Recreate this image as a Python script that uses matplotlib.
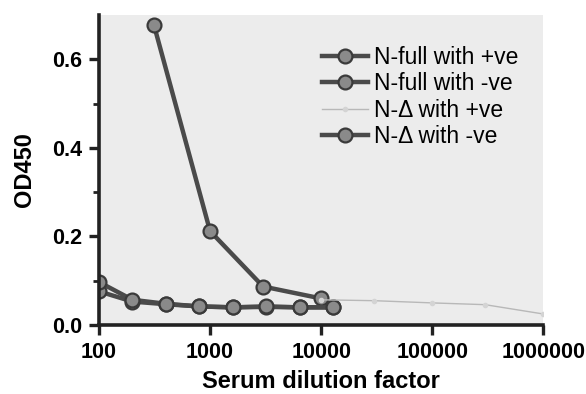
import numpy as np
import matplotlib
matplotlib.use('Agg')
import matplotlib.pyplot as plt
from matplotlib.ticker import FixedLocator, NullLocator

plt.rcParams['font.family'] = ['Liberation Sans', 'DejaVu Sans']

# data
dil_full_pos = [312.5, 1000, 3000, 10000]
od_full_pos = [0.677, 0.212, 0.087, 0.060]

dil_neg = [100, 200, 400, 800, 1600, 3200, 6400, 12800]
od_full_neg = [0.097, 0.057, 0.048, 0.042, 0.040, 0.042, 0.040, 0.040]
od_delta_neg = [0.076, 0.053, 0.047, 0.042, 0.040, 0.041, 0.040, 0.040]

dil_delta_pos = [10000, 30000, 100000, 300000, 1000000]
od_delta_pos = [0.057, 0.055, 0.050, 0.046, 0.025]

labels = ['N-full with +ve', 'N-full with -ve', 'N-\u0394 with +ve', 'N-\u0394 with -ve']

fig = plt.figure(figsize=(5.86, 3.94), dpi=100)
ax = fig.add_axes([0.169, 0.175, 0.758, 0.787])
ax.set_facecolor('#ececec')

line_kw = dict(color='#4a4a4a', lw=3.2, marker='o', ms=10,
               mfc='#8a8a8a', mec='#3a3a3a', mew=1.6)

ax.plot(dil_full_pos, od_full_pos, label=labels[0], **line_kw)
ax.plot(dil_neg, od_full_neg, label=labels[1], **line_kw)
ax.plot(dil_delta_pos, od_delta_pos, label=labels[2], color='#b8b8b8', lw=1.0,
        marker='o', ms=3, mfc='#d4d4d4', mec='#d4d4d4')
ax.plot(dil_neg, od_delta_neg, label=labels[3], zorder=1, **line_kw)

ax.set_xscale('log')
ax.set_xlim(100, 1000000)
ax.set_ylim(0, 0.7)
ax.xaxis.set_major_locator(FixedLocator([100, 1000, 10000, 100000, 1000000]))
ax.xaxis.set_minor_locator(NullLocator())
ax.yaxis.set_major_locator(FixedLocator([0.0, 0.2, 0.4, 0.6]))
ax.yaxis.set_minor_locator(FixedLocator([0.1, 0.3, 0.5]))
ax.set_xticklabels(['100', '1000', '10000', '100000', '1000000'],
                   fontsize=15.5, fontweight='bold')
ax.set_yticklabels(['0.0', '0.2', '0.4', '0.6'], fontsize=15.5, fontweight='bold')

for s in ['top', 'right']:
    ax.spines[s].set_visible(False)
for s in ['left', 'bottom']:
    ax.spines[s].set_linewidth(2.6)
    ax.spines[s].set_color('#222222')
ax.tick_params(which='major', direction='out', length=7, width=2.4, color='#222222', pad=5)
ax.tick_params(which='minor', direction='out', length=4, width=2.0, color='#222222')

ax.set_xlabel('Serum dilution factor', fontsize=17, fontweight='bold', labelpad=5)
ax.set_ylabel('OD450', fontsize=17, fontweight='bold', labelpad=12)

ax.legend(loc='upper right', bbox_to_anchor=(0.975, 0.945), frameon=False,
          fontsize=16.5, handlelength=2.0, handletextpad=0.25, labelspacing=0.15,
          borderaxespad=0.2)

fig.savefig('out.png', dpi=100)
